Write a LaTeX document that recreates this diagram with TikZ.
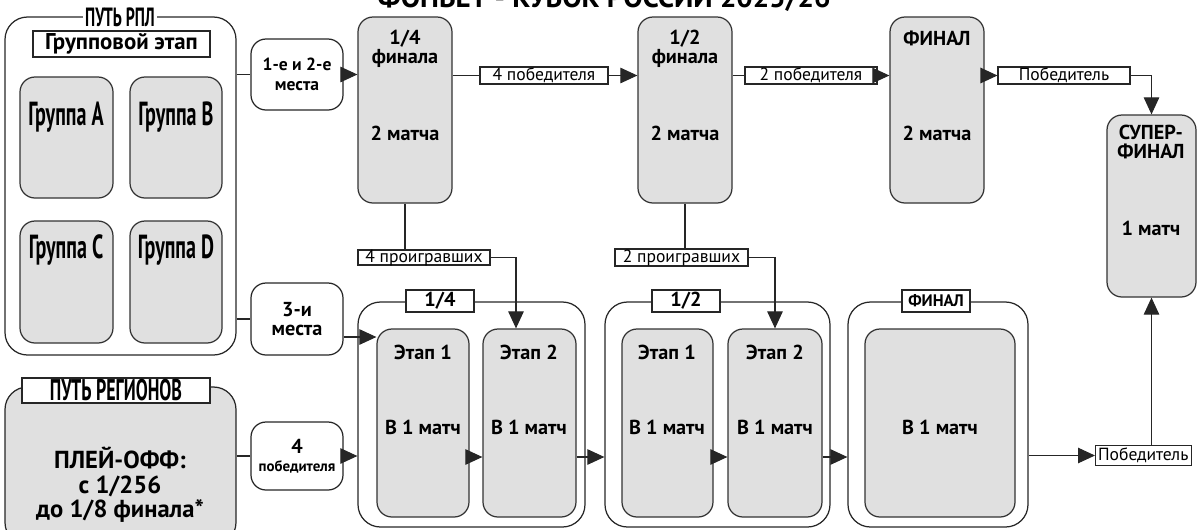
\documentclass[tikz,border=0pt]{standalone}
\usepackage{fontspec}
\setmainfont{PT Sans}
\newfontfamily\condfont[FakeStretch=0.6]{PT Sans}
\usetikzlibrary{arrows.meta, fit, positioning}

\newcommand\txtbold{\bfseries\fontsize{11.5}{10.5}\selectfont}
\newcommand\txtcond{\condfont\bfseries\fontsize{19}{19}\selectfont}
\newcommand\txthead{\condfont\bfseries\fontsize{15}{15}\selectfont}
\newcommand\txttag{\fontsize{10}{11}\selectfont}

\tikzset{
  frame/.style={draw=black!85, line width=0.7pt, rounded corners=0.45cm, inner sep=0pt},
  stage/.style={draw=black!80, fill=black!12, line width=0.7pt, rounded corners=0.3cm, inner sep=0pt},
  pick/.style={draw=black!85, fill=white, line width=0.7pt, rounded corners=0.3cm, inner sep=0pt},
  tag/.style={draw=black!85, fill=white, line width=0.6pt, inner sep=0pt},
  link/.style={draw=black!85, line width=0.6pt},
  go/.style={link, -{Triangle[length=0.34cm,width=0.31cm]}},
}

\begin{document}
\begin{tikzpicture}[x=0.02cm, y=-0.02cm]
\useasboundingbox (0,0) rectangle (1198,529);
\clip (0,0) rectangle (1198,529);

\node[font=\bfseries\fontsize{16.5}{16.5}\selectfont, anchor=base] (title) at (604,7) {ФОНБЕТ - КУБОК РОССИИ 2025/26};

% путь РПЛ
\node[frame, fit={(5,17) (236,355)}] (rpl) {};
\node[fill=white, inner sep=1pt, font=\txthead] (rplt) at (120,17) {ПУТЬ РПЛ};
\node[tag, fit={(33,31) (210,57)}] (grp) {};
\node[font=\bfseries\fontsize{13}{13}\selectfont] (grpt) at (grp) {Групповой этап};
\node[stage, fit={(20,77) (113,198)}] (grA) {};
\node[stage, fit={(130,77) (222,198)}] (grB) {};
\node[stage, fit={(20,221) (113,343)}] (grC) {};
\node[stage, fit={(130,221) (222,343)}] (grD) {};
\node[font=\txtcond] (grAt) at (66,117) {Группа A};
\node[font=\txtcond] (grBt) at (176,117) {Группа B};
\node[font=\txtcond] (grCt) at (66,250) {Группа C};
\node[font=\txtcond] (grDt) at (176,250) {Группа D};

% путь регионов
\node[frame, fill=black!12, fit={(5,387) (236,545)}] (reg) {};
\node[tag, fit={(22,378) (210,403)}] (regt) {};
\node[font=\condfont\bfseries\fontsize{17}{17}\selectfont] (regtt) at (regt) {ПУТЬ РЕГИОНОВ};
\node[align=center, font=\bfseries\fontsize{14}{14}\selectfont] (regx) at (120,485) {ПЛЕЙ-ОФФ:\\с 1/256\\до 1/8 финала*};

% отбор
\node[pick, fit={(251,39) (343,110)}] (m12) {};
\node[pick, fit={(251,283) (343,355)}] (m3) {};
\node[pick, fit={(251,422) (343,490)}] (m4) {};
\node[align=center, font=\bfseries\fontsize{10}{11}\selectfont] (m12t) at (m12) {1-е и 2-е\\места};
\node[align=center, font=\txtbold] (m3t) at (m3) {3-и\\места};
\node[align=center, font=\txtbold] (m4t) at (m4) {4\\{\fontsize{8.5}{9}\selectfont победителя}};

% верхняя сетка
\node[stage, fit={(358,17) (452,203)}] (q4) {};
\node[stage, fit={(638,17) (732,203)}] (h2) {};
\node[stage, fit={(890,17) (984,203)}] (f) {};
\node[stage, fit={(1107,115) (1196,297)}] (sf) {};
\node[align=center, font=\txtbold] (q4t) at (405,49) {1/4\\финала};
\node[font=\txtbold] (q4m) at (405,133) {2 матча};
\node[align=center, font=\txtbold] (h2t) at (685,49) {1/2\\финала};
\node[font=\txtbold] (h2m) at (685,133) {2 матча};
\node[font=\txtbold] (ft) at (937,38) {ФИНАЛ};
\node[font=\txtbold] (fm) at (937,133) {2 матча};
\node[align=center, font=\txtbold] (sft) at (1151,142) {СУПЕР-\\ФИНАЛ};
\node[font=\txtbold] (sfm) at (1151,228) {1 матч};

\node[tag, fit={(480,67) (608,84)}] (w4) {};
\node[tag, fit={(745,67) (877,84)}] (w2) {};
\node[tag, fit={(998,67) (1130,84)}] (w1) {};
\node[tag, fit={(358,250) (490,265)}] (l4) {};
\node[tag, fit={(615,249) (748,266)}] (l2) {};
\node[font=\txttag] (w4t) at (w4) {4 победителя};
\node[font=\txttag] (w2t) at (w2) {2 победителя};
\node[font=\txttag] (w1t) at (w1) {Победитель};
\node[font=\txttag] (l4t) at (l4) {4 проигравших};
\node[font=\txttag] (l2t) at (l2) {2 проигравших};

% нижняя сетка
\node[frame, fit={(358,302) (585,527)}] (q4c) {};
\node[frame, fit={(605,302) (830,527)}] (h2c) {};
\node[frame, fit={(848,302) (1028,527)}] (fc) {};
\node[tag, fit={(406,290) (474,312)}] (q4ct) {};
\node[tag, fit={(652,290) (720,312)}] (h2ct) {};
\node[tag, fit={(902,290) (970,312)}] (fct) {};
\node[font=\txtbold] (q4ctt) at (q4ct) {1/4};
\node[font=\txtbold] (h2ctt) at (h2ct) {1/2};
\node[font=\bfseries\fontsize{9.5}{9.5}\selectfont] (fctt) at (fct) {ФИНАЛ};
\node[stage, fit={(377,329) (469,517)}] (q4s1) {};
\node[stage, fit={(483,329) (576,517)}] (q4s2) {};
\node[stage, fit={(622,329) (713,517)}] (h2s1) {};
\node[stage, fit={(728,329) (822,517)}] (h2s2) {};
\node[stage, fit={(865,329) (1015,517)}] (fin) {};
\node[font=\txtbold] (q4s1t) at (423,352) {Этап 1};
\node[font=\txtbold] (q4s1m) at (423,427) {В 1 матч};
\node[font=\txtbold] (q4s2t) at (529,352) {Этап 2};
\node[font=\txtbold] (q4s2m) at (529,427) {В 1 матч};
\node[font=\txtbold] (h2s1t) at (667,352) {Этап 1};
\node[font=\txtbold] (h2s1m) at (667,427) {В 1 матч};
\node[font=\txtbold] (h2s2t) at (775,352) {Этап 2};
\node[font=\txtbold] (h2s2m) at (775,427) {В 1 матч};
\node[font=\txtbold] (finm) at (940,427) {В 1 матч};
\node[tag, font=\txttag, anchor=west, inner xsep=1.5pt, inner ysep=1.5pt] (w0) at (1095,455.5) {Победитель};

% связи
\draw[link] (rpl.east |- m12) -- (m12);
\draw[go] (m12) -- (m12 -| q4.west);
\draw[link] (q4.east |- w4) -- (w4);
\draw[go] (w4) -- (w4 -| h2.west);
\draw[link] (h2.east |- w2) -- (w2);
\draw[go] (w2) -- (w2 -| f.west);
\draw[go] (f.east |- w1) -- (w1);
\draw[go] (w1) -| (sf.north);
\draw[link] (q4.south) -- (q4.south |- l4.north);
\draw[go] (l4) -| ([xshift=-0.27cm]q4s2.north);
\draw[link] (h2.south) -- (h2.south |- l2.north);
\draw[go] (l2) -| (h2s2.north);
\draw[link] (rpl.east |- m3) -- (m3);
\draw[go] ([yshift=-0.36cm]m3.east) -- ([yshift=-0.36cm]m3.east -| q4s1.west);
\draw[link] (reg.east |- m4) -- (m4);
\draw[go] (m4) -- (m4 -| q4c.west);
\draw[go] ([yshift=-0.68cm]q4s1.east) -- ([yshift=-0.68cm]q4s2.west);
\draw[go] ([yshift=-0.68cm]q4s2.east) -- ([yshift=-0.68cm]q4s2.east -| h2c.west);
\draw[go] ([yshift=-0.68cm]h2s1.east) -- ([yshift=-0.68cm]h2s2.west);
\draw[go] ([yshift=-0.68cm]h2s2.east) -- ([yshift=-0.68cm]h2s2.east -| fc.west);
\draw[go] (fc.east |- w0) -- (w0);
\draw[go] (w0.north -| sf) -- (sf.south);
\end{tikzpicture}
\end{document}
